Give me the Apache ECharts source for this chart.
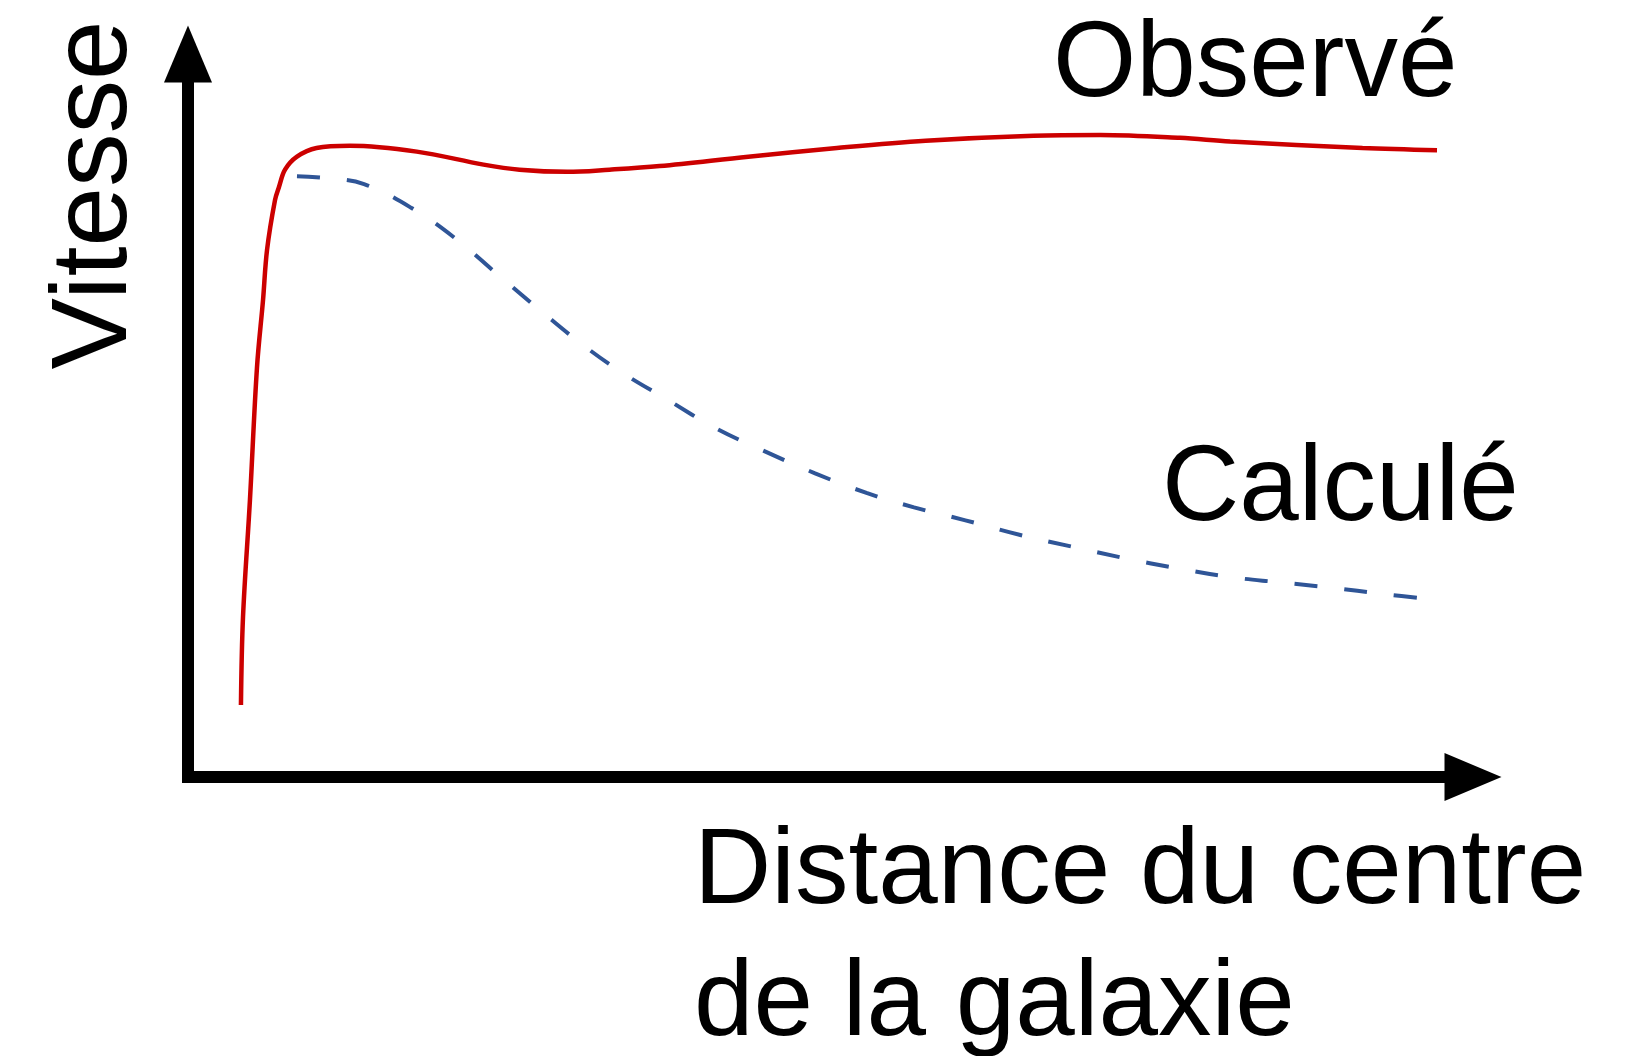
<!DOCTYPE html>
<html>
<head>
<meta charset="utf-8">
<script src="https://cdn.jsdelivr.net/npm/echarts@6/dist/echarts.min.js"></script>
<style>
html,body{margin:0;padding:0;background:#fff;}
#chart{width:1635px;height:1056px;}
</style>
</head>
<body>
<div id="chart"></div>
<script>
// Distance (0..100, arbitrary units) and velocity (0..100, arbitrary units)
const observedX = [4.12, 4.28, 4.82, 5.37, 5.84, 6.15, 6.77, 7.08, 7.55, 8.48, 10.0, 12.6, 17.8, 23.0, 25.8, 29.5, 32.8, 36.7, 43.6, 50.5, 57.4, 65.8, 71.0, 77.2, 81.1, 91.4, 97.2];
const observedY = [9.96, 22.1, 38.3, 56.7, 66.0, 72.9, 79.8, 81.6, 84.0, 85.8, 87.0, 87.3, 86.5, 84.7, 84.0, 83.7, 84.0, 84.5, 85.8, 87.0, 88.0, 88.7, 88.8, 88.4, 87.9, 87.0, 86.7];

const calculatedX = [8.48, 11.05, 13.7, 17.4, 20.8, 24.1, 27.5, 30.7, 33.9, 37.4, 41.0, 44.7, 48.8, 52.8, 56.5, 60.5, 64.7, 68.7, 72.8, 76.9, 80.9, 85.1, 88.9, 93.1, 97.2];
const calculatedY = [83.1, 82.8, 82.0, 78.7, 74.5, 69.5, 64.4, 59.8, 55.8, 52.1, 48.3, 45.2, 42.0, 39.3, 37.3, 35.5, 33.5, 31.9, 30.3, 28.9, 27.7, 26.9, 26.2, 25.3, 24.5];

const labelObserved = 'Observé';
const labelCalculated = 'Calculé';
const yAxisTitle = 'Vitesse';
const xAxisTitleLines = ['Distance du centre', 'de la galaxie'];

const zip = (xs, ys) => xs.map((x, i) => [x, ys[i]]);

const FONT = '"Liberation Sans", Arial, Helvetica, sans-serif';
const FS = 107;

const axisCommon = {
  type: 'value',
  min: 0,
  max: 100,
  axisLine: {
    show: true,
    symbol: ['none', 'triangle'],
    symbolSize: [48, 57],
    lineStyle: { color: '#000', width: 12, cap: 'square' }
  },
  axisTick: { show: false },
  axisLabel: { show: false },
  splitLine: { show: false }
};

const chart = echarts.init(document.getElementById('chart'), null, { renderer: 'canvas' });
chart.setOption({
  animation: false,
  backgroundColor: '#fff',
  grid: { left: 188, right: 162, top: 54, bottom: 279 },
  xAxis: Object.assign({}, axisCommon),
  yAxis: Object.assign({}, axisCommon),
  series: [
    {
      name: labelObserved,
      type: 'line',
      data: zip(observedX, observedY),
      showSymbol: false,
      smooth: 0.35,
      clip: false,
      lineStyle: { color: '#cc0000', width: 4.5 }
    },
    {
      name: labelCalculated,
      type: 'line',
      data: zip(calculatedX, calculatedY),
      showSymbol: false,
      smooth: 0.4,
      clip: false,
      lineStyle: { color: '#2f5597', width: 4, type: [23, 27] }
    }
  ],
  graphic: [
    { type: 'text', x: 1053, y: 66, style: { text: labelObserved, fontSize: FS, fontFamily: FONT, fill: '#000', align: 'left', verticalAlign: 'middle' } },
    { type: 'text', x: 1162, y: 490, style: { text: labelCalculated, fontSize: FS, fontFamily: FONT, fill: '#000', align: 'left', verticalAlign: 'middle' } },
    { type: 'text', x: 694, y: 873, style: { text: xAxisTitleLines[0], fontSize: FS, fontFamily: FONT, fill: '#000', align: 'left', verticalAlign: 'middle' } },
    { type: 'text', x: 694, y: 1005, style: { text: xAxisTitleLines[1], fontSize: FS, fontFamily: FONT, fill: '#000', align: 'left', verticalAlign: 'middle' } },
    { type: 'text', x: 96, y: 195, rotation: Math.PI / 2, style: { text: yAxisTitle, fontSize: FS, fontFamily: FONT, fill: '#000', align: 'center', verticalAlign: 'middle' } }
  ]
});
</script>
</body>
</html>
